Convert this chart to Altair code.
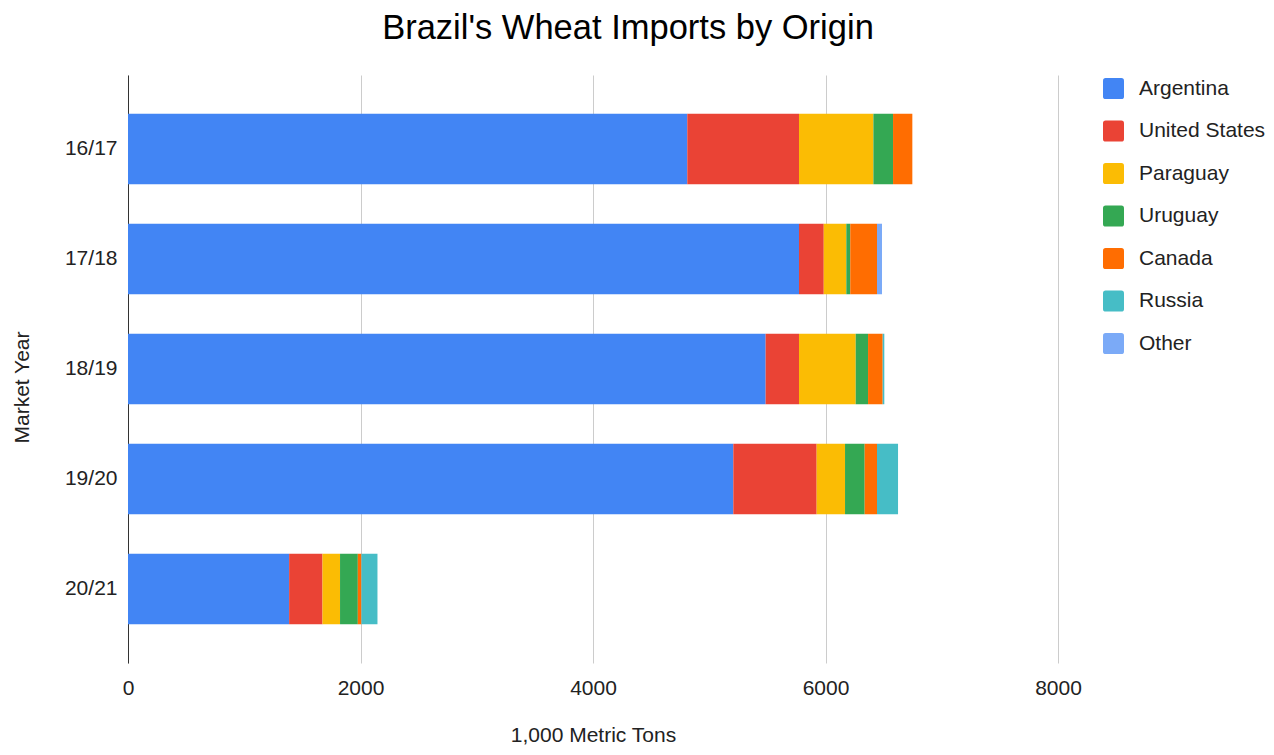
import altair as alt
import pandas as pd

years = ["16/17", "17/18", "18/19", "19/20", "20/21"]
origins = ["Argentina", "United States", "Paraguay", "Uruguay", "Canada", "Russia", "Other"]
colors = ["#4285F4", "#EA4335", "#FBBC04", "#34A853", "#FF6D01", "#46BDC6", "#7BAAF7"]

argentina = [4811, 5772, 5485, 5207, 1386]
united_states = [961, 213, 287, 717, 287]
paraguay = [640, 194, 488, 244, 151]
uruguay = [169, 34, 106, 169, 153]
canada = [166, 230, 126, 106, 31]
russia = [0, 0, 14, 181, 138]
other = [0, 43, 0, 0, 0]

series = [argentina, united_states, paraguay, uruguay, canada, russia, other]
x_ticks = [0, 2000, 4000, 6000, 8000]

rows = []
for k, (name, vals) in enumerate(zip(origins, series)):
    for yr, v in zip(years, vals):
        rows.append({"year": yr, "origin": name, "value": v, "idx": k})
df = pd.DataFrame(rows)

FONT = "Liberation Sans"
rounded = ("M-0.75,-1L0.75,-1Q1,-1,1,-0.75L1,0.75Q1,1,0.75,1L-0.75,1"
           "Q-1,1,-1,0.75L-1,-0.75Q-1,-1,-0.75,-1Z")

chart = alt.Chart(df).mark_bar().encode(
    y=alt.Y("year:N", sort=years,
            scale=alt.Scale(paddingInner=0.359, paddingOuter=0.352),
            axis=alt.Axis(title="Market Year", titleAngle=270, titleX=-100, titleY=312,
                          titleAlign="center", titleBaseline="alphabetic",
                          titleFontSize=21, titleFontWeight="normal", titleColor="#222222",
                          labelFontSize=21, labelColor="#222222", labelPadding=11,
                          ticks=False, tickSize=0, domain=True, domainColor="#333333",
                          domainWidth=1, grid=False)),
    x=alt.X("value:Q", stack="zero",
            scale=alt.Scale(domain=[0, 8000], nice=False),
            axis=alt.Axis(values=x_ticks, format="d", title="1,000 Metric Tons",
                          titleY=78, titleBaseline="alphabetic", titleFontSize=21,
                          titleFontWeight="normal", titleColor="#222222",
                          labelFontSize=21, labelColor="#222222", labelPadding=31,
                          labelBaseline="alphabetic", labelFlush=False, ticks=False,
                          tickSize=0, domain=False, grid=True, gridColor="#cccccc",
                          gridWidth=1)),
    color=alt.Color("origin:N", sort=origins,
                    scale=alt.Scale(domain=origins, range=colors),
                    legend=alt.Legend(title=None, orient="none", legendX=975, legendY=3,
                                      padding=0, offset=0, symbolType=rounded,
                                      symbolSize=441, symbolStrokeWidth=0, symbolOpacity=1,
                                      labelFontSize=21, labelColor="#222222", labelOffset=15,
                                      rowPadding=20.5, labelLimit=300)),
    order=alt.Order("idx:Q", sort="ascending"),
).properties(
    width=930,
    height=588,
    title=alt.TitleParams("Brazil's Wheat Imports by Origin", fontSize=34.5, font=FONT,
                          fontWeight="normal", color="#000000", anchor="middle",
                          frame="group", dx=35, baseline="alphabetic", offset=2),
    autosize=alt.AutoSizeParams(type="none"),
    padding={"left": 120, "top": 67, "right": 208, "bottom": 84},
).configure(font=FONT).configure_view(stroke=None)

chart.save("out.html", embed_options={"renderer": "svg", "actions": False})
